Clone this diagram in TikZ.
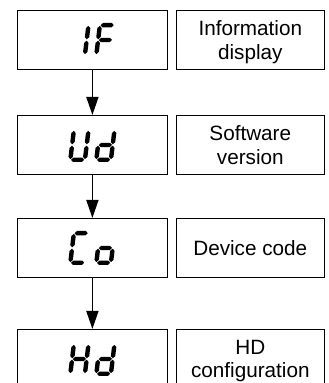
\documentclass[tikz,border=0pt]{standalone}
\usepackage{fontspec}
\setmainfont{Liberation Sans}
\usetikzlibrary{arrows.meta}
\newcommand\hsegm[1]{\fill (-6.6,#1) -- (-4.4,#1+2.2) -- (4.4,#1+2.2) -- (6.6,#1) -- (4.4,#1-2.2) -- (-4.4,#1-2.2) -- cycle;}
\newcommand\vsegm[3]{\fill (#1,#2) -- (#1+2.2,#2+2.2) -- (#1+2.2,#3-2.2) -- (#1,#3) -- (#1-2.2,#3-2.2) -- (#1-2.2,#2+2.2) -- cycle;}
\newcommand\segpa{\hsegm{14.8}}
\newcommand\segpg{\hsegm{0}}
\newcommand\segpd{\hsegm{-14.8}}
\newcommand\segpb{\vsegm{7.3}{0.7}{14.1}}
\newcommand\segpc{\vsegm{7.3}{-14.1}{-0.7}}
\newcommand\segpe{\vsegm{-7.3}{-14.1}{-0.7}}
\newcommand\segpf{\vsegm{-7.3}{0.7}{14.1}}
\newcommand\digitpair[3]{%
  \begin{scope}[shift={(#1.center)}, xshift=-13pt, xslant=0.12]
    \foreach \s in {#2}{\csname segp\s\endcsname}
  \end{scope}
  \begin{scope}[shift={(#1.center)}, xshift=13pt, xslant=0.12]
    \foreach \s in {#3}{\csname segp\s\endcsname}
  \end{scope}}
\begin{document}
\begin{tikzpicture}[x=1pt, y=1pt,
  dispbox/.style={draw, line width=1pt, minimum width=150pt, minimum height=59pt, inner sep=0pt},
  lblbox/.style={draw, line width=1pt, minimum width=148.5pt, minimum height=59pt, inner sep=0pt,
    align=center, text depth=0pt, font=\fontsize{20.7}{23.3}\selectfont},
  flowarrow/.style={line width=1.5pt, -{Triangle[length=18pt, width=12pt]}}]
\useasboundingbox (0,0) rectangle (329,383);
\node[dispbox] (d1) at (92.4,343) {};
\node[dispbox] (d2) at (92.4,238) {};
\node[dispbox] (d3) at (92.4,135) {};
\node[dispbox] (d4) at (92.4,24) {};
\node[lblbox] (l1) at (250.3,343) {Information\\display};
\node[lblbox] (l2) at (250.3,238) {Software\\version};
\node[lblbox] (l3) at (250.3,135) {Device code};
\node[lblbox] (l4) at (250.3,24) {HD\\configuration};
\digitpair{d1}{b,c}{a,f,g,e}
\digitpair{d2}{b,c,d,e,f}{b,c,d,e,g}
\digitpair{d3}{a,f,e,d}{g,e,d,c}
\digitpair{d4}{b,c,e,f,g}{b,c,d,e,g}
\draw[flowarrow] (d1.south) -- (d2.north);
\draw[flowarrow] (d2.south) -- (d3.north);
\draw[flowarrow] (d3.south) -- (d4.north);
\end{tikzpicture}
\end{document}
